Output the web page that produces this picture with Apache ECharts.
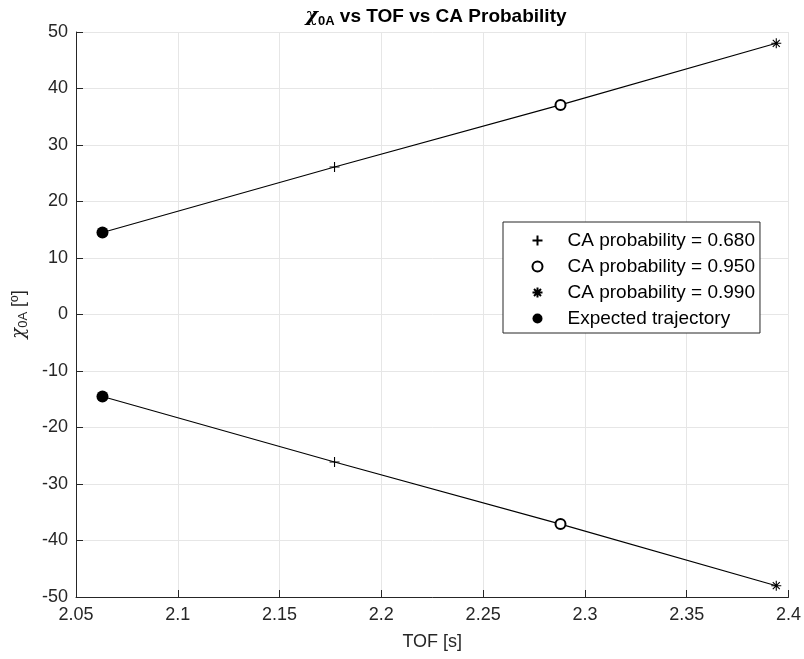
<!DOCTYPE html>
<html>
<head>
<meta charset="utf-8">
<script src="https://cdn.jsdelivr.net/npm/echarts@6/dist/echarts.min.js"></script>
<style>html,body{margin:0;padding:0;background:#fff}#c{width:804px;height:659px}</style>
</head>
<body>
<div id="c"></div>
<script>
const tof = [2.063, 2.177, 2.288, 2.394];
const chiUpper = [14.5, 26.1, 37.1, 48.0];
const chiLower = [-14.5, -26.1, -37.1, -48.0];
const legendNames = ['CA probability = 0.680', 'CA probability = 0.950', 'CA probability = 0.990', 'Expected trajectory'];
// index in tof arrays for each marker group
const markerIndex = [1, 2, 3, 0];
const xTicks = {min: 2.05, max: 2.4, interval: 0.05};
const yTicks = {min: -50, max: 50, interval: 10};

const FONT = 'Liberation Sans, Arial, Helvetica, sans-serif';
const AX = '#262626';

const PLUS = 'path://M5,0L5,10M0,5L10,5';
const STAR = 'path://M5,0L5,10M0,5L10,5M1.5,1.5L8.5,8.5M1.5,8.5L8.5,1.5';
const symbols = [PLUS, 'emptyCircle', STAR, 'circle'];
const sizes = [10, 10, 10, 12];

const pairs = arr => tof.map((t, i) => [t, arr[i]]);

const series = [
  {type: 'line', data: pairs(chiUpper), symbol: 'none', lineStyle: {color: '#000', width: 1.1}, silent: true, z: 2},
  {type: 'line', data: pairs(chiLower), symbol: 'none', lineStyle: {color: '#000', width: 1.1}, silent: true, z: 2}
];
legendNames.forEach((name, k) => {
  const i = markerIndex[k];
  const sym = symbols[k];
  let style;
  if (sym === 'circle') style = {color: '#000', opacity: 1};
  else if (sym === 'emptyCircle') style = {color: '#000', borderColor: '#000', borderWidth: 1, opacity: 1};
  else style = {color: 'none', borderColor: '#000', borderWidth: 1.1, opacity: 1};
  series.push({
    type: 'scatter', name: name,
    data: [[tof[i], chiUpper[i]], [tof[i], chiLower[i]]],
    symbol: sym, symbolSize: sizes[k],
    itemStyle: style,
    z: 5
  });
});

const chart = echarts.init(document.getElementById('c'), null, {renderer: 'canvas'});
chart.setOption({
  animation: false,
  backgroundColor: '#fff',
  title: {
    text: '{chi|χ}{sub|0A}{b| vs TOF vs CA Probability}',
    left: 431, top: 0, textAlign: 'center',
    textStyle: {
      rich: {
        chi: {fontFamily: 'DejaVu Serif, serif', fontStyle: 'italic', fontSize: 19, color: '#000'},
        sub: {fontFamily: FONT, fontWeight: 'bold', fontSize: 13, color: '#000', padding: [10, 0, 0, 0]},
        b: {fontFamily: FONT, fontWeight: 'bold', fontSize: 19, color: '#000'}
      }
    }
  },
  grid: {left: 76, right: 12, top: 32, bottom: 62, containLabel: false},
  legend: {
    orient: 'vertical', left: 503, top: 222,
    data: legendNames,
    itemWidth: 50, itemHeight: 10, itemGap: 7,
    padding: [9, 5, 5, 27],
    borderColor: AX, borderWidth: 1, backgroundColor: '#fff',
    textStyle: {fontFamily: FONT, fontSize: 19, color: '#000'},
    selectedMode: false
  },
  xAxis: {
    type: 'value', min: xTicks.min, max: xTicks.max, interval: xTicks.interval,
    name: 'TOF [s]', nameLocation: 'middle', nameGap: 36,
    nameTextStyle: {fontFamily: FONT, fontSize: 18, color: AX},
    axisLine: {onZero: false, lineStyle: {color: AX, width: 1}},
    axisTick: {inside: true, length: 7, lineStyle: {color: AX}},
    axisLabel: {fontFamily: FONT, fontSize: 18, color: AX, margin: 9,
      formatter: v => String(+v.toFixed(2))},
    splitLine: {show: true, lineStyle: {color: '#e6e6e6', width: 1}}
  },
  yAxis: {
    type: 'value', min: yTicks.min, max: yTicks.max, interval: yTicks.interval,
    name: '{chi|χ}{sub|0A}{n| [º]}', nameLocation: 'middle', nameGap: 46, nameRotate: 90,
    nameTextStyle: {
      rich: {
        chi: {fontFamily: 'DejaVu Serif, serif', fontStyle: 'italic', fontSize: 18, color: AX},
        sub: {fontFamily: FONT, fontSize: 13, color: AX, padding: [9, 0, 0, 0]},
        n: {fontFamily: FONT, fontSize: 18, color: AX}
      }
    },
    axisLine: {onZero: false, lineStyle: {color: AX, width: 1}},
    axisTick: {inside: true, length: 7, lineStyle: {color: AX}},
    axisLabel: {fontFamily: FONT, fontSize: 18, color: AX, margin: 8},
    splitLine: {show: true, lineStyle: {color: '#e6e6e6', width: 1}}
  },
  series: series
});
</script>
</body>
</html>
